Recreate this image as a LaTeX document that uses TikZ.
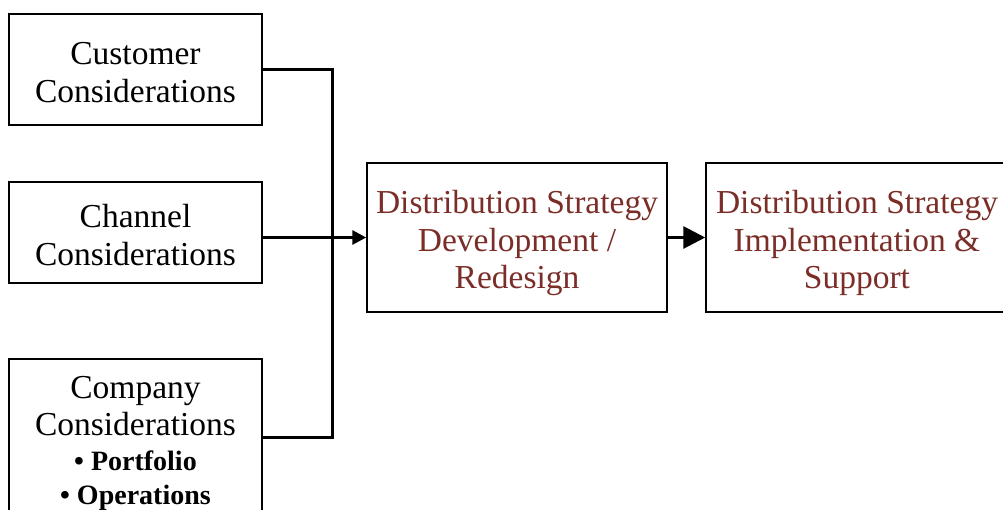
\documentclass[tikz,border=0pt]{standalone}
\usepackage{fontspec}
\setmainfont{Liberation Serif}
\usetikzlibrary{arrows.meta}
\definecolor{dred}{HTML}{7B2D28}
\newcommand{\firststrut}[1]{\rule{0pt}{#1}}
\begin{document}
\begin{tikzpicture}[x=1pt,y=-1pt,
  box/.style={draw=black,line width=1.5pt,rectangle,inner sep=0pt,align=center,
    font=\fontsize{33.5}{37.5}\selectfont},
  bul/.style={},
  conn/.style={line width=3pt},
  arr/.style={line width=3pt,-{Triangle[length=14pt,width=14pt]}},
  bigarr/.style={line width=3pt,-{Triangle[length=22pt,width=22pt]}}]
\useasboundingbox (0,0) rectangle (1003,510);
\clip (0,0) rectangle (1003,510);
\fill[white] (0,0) rectangle (1003,510);
\node[box,minimum width=253pt,minimum height=111pt] (c1) at (135.5,69.5) {\firststrut{28pt}Customer\\Considerations};
\node[box,minimum width=253pt,minimum height=101pt] (c2) at (135.5,232.5) {\firststrut{28pt}Channel\\Considerations};
\node[box,minimum width=253pt,minimum height=162pt] (c3) at (135.5,440) {\firststrut{29pt}Company\\Considerations\\[-3pt]{\bfseries\fontsize{28}{33}\selectfont \textbullet\ Portfolio}\\[-3pt]{\bfseries\fontsize{28}{33}\selectfont \textbullet\ Operations}};
\node[box,text=dred,minimum width=300pt,minimum height=149pt] (mid) at (517,237.5) {\firststrut{35pt}Distribution Strategy\\Development /\\Redesign};
\node[box,text=dred,minimum width=302pt,minimum height=149pt] (impl) at (857,237.5) {\firststrut{35pt}Distribution Strategy\\Implementation \&\hspace*{9pt}\\Support};
\coordinate (j1) at (332,69.5);
\coordinate (j3) at (332,437);
\draw[conn] (c1.east) -- (j1) -- (j3) -- (c3.east |- j3);
\draw[arr] (c2.east |- mid.west) -- (mid.west);
\draw[bigarr] (mid.east) -- (impl.west);
\end{tikzpicture}
\end{document}
